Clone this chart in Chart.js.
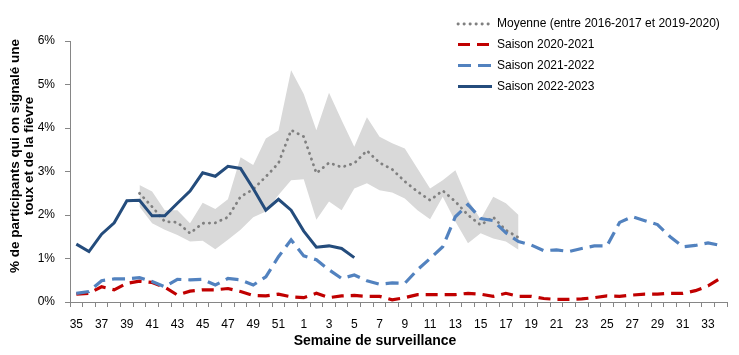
<!DOCTYPE html>
<html>
<head>
<meta charset="utf-8">
<script src="https://cdn.jsdelivr.net/npm/chart.js@4/dist/chart.umd.min.js"></script>
<style>
  html, body { margin: 0; padding: 0; background: #fff; }
  #wrap { width: 739px; height: 355px; }
</style>
</head>
<body>
<div id="wrap"><canvas id="c" width="739" height="355"></canvas></div>
<script>
// Weeks of surveillance (35..52 then 1..34)
const weeks = [35,36,37,38,39,40,41,42,43,44,45,46,47,48,49,50,51,52,
  1,2,3,4,5,6,7,8,9,10,11,12,13,14,15,16,17,18,19,20,21,22,23,24,25,26,27,28,29,30,31,32,33,34];

// Average 2016-2017 to 2019-2020 (weeks 40..18)
const moyenne = [null,null,null,null,null,
  2.50,2.19,1.85,1.83,1.58,1.81,1.82,1.95,2.42,2.59,2.88,3.19,3.95,
  3.80,2.96,3.20,3.10,3.19,3.48,3.20,3.05,2.77,2.54,2.34,2.56,2.31,2.00,1.77,1.95,1.65,1.48,
  null,null,null,null,null,null,null,null,null,null,null,null,null,null,null,null];

// Range (max / min) of previous seasons
const plageMax = [null,null,null,null,null,
  2.69,2.54,2.11,2.11,1.81,2.28,2.14,2.36,3.33,3.15,3.76,3.94,5.33,
  4.78,3.95,4.81,4.18,3.57,4.25,3.80,3.65,3.53,3.07,2.61,2.80,3.03,2.35,1.90,2.42,2.27,2.00,
  null,null,null,null,null,null,null,null,null,null,null,null,null,null,null,null];
const plageMin = [null,null,null,null,null,
  2.19,1.81,1.66,1.54,1.39,1.41,1.21,1.43,1.66,1.95,2.08,2.46,2.80,
  2.82,1.89,2.31,2.11,2.61,2.73,2.57,2.52,2.38,2.11,1.90,2.42,1.85,1.35,1.58,1.46,1.39,1.20,
  null,null,null,null,null,null,null,null,null,null,null,null,null,null,null,null];

const saison2020 = [0.18,0.20,0.35,0.28,0.43,0.48,0.45,0.34,0.16,0.25,0.28,0.28,0.31,0.24,0.15,0.14,0.18,0.12,
  0.10,0.20,0.10,0.14,0.15,0.13,0.13,0.05,0.10,0.17,0.17,0.17,0.17,0.20,0.18,0.13,0.20,0.13,0.13,0.08,
  0.06,0.06,0.07,0.10,0.14,0.13,0.16,0.18,0.18,0.20,0.20,0.26,0.37,0.55];

const saison2021 = [0.20,0.24,0.49,0.53,0.53,0.56,0.47,0.35,0.52,0.51,0.52,0.39,0.54,0.51,0.39,0.58,1.04,1.43,
  1.06,0.97,0.74,0.54,0.62,0.49,0.41,0.44,0.43,0.74,1.00,1.27,1.96,2.24,1.92,1.87,1.59,1.39,1.31,1.18,
  1.20,1.16,1.23,1.29,1.29,1.83,1.96,1.87,1.78,1.50,1.27,1.30,1.36,1.30];

const saison2022 = [1.33,1.16,1.56,1.82,2.33,2.34,1.98,1.98,2.27,2.55,2.97,2.89,3.12,3.07,2.61,2.11,2.36,2.11,
  1.63,1.26,1.29,1.23,1.02];

const yTicks = [0,1,2,3,4,5,6];

const FONT = '"Liberation Sans", Arial, sans-serif';

const legendItems = ['Moyenne (entre 2016-2017 et 2019-2020)','Saison 2020-2021','Saison 2021-2022','Saison 2022-2023'];

const datasets = [
  { label: 'max', data: plageMax, borderWidth: 0, pointRadius: 0, fill: '+1',
    backgroundColor: '#D9D9D9', borderColor: 'rgba(0,0,0,0)', order: 10 },
  { label: 'min', data: plageMin, borderWidth: 0, pointRadius: 0, fill: false,
    borderColor: 'rgba(0,0,0,0)', order: 11 },
  { label: legendItems[0], data: moyenne, borderColor: '#808080', borderWidth: 2.8,
    borderDash: [0.3, 5.7], borderCapStyle: 'round', pointRadius: 0, fill: false, order: 4, inLegend: true },
  { label: legendItems[1], data: saison2020, borderColor: '#C00000', borderWidth: 3.2,
    borderDash: [12, 7], pointRadius: 0, fill: false, order: 3, inLegend: true },
  { label: legendItems[2], data: saison2021, borderColor: '#5282BF', borderWidth: 3.2,
    borderDash: [13, 7], pointRadius: 0, fill: false, order: 2, inLegend: true },
  { label: legendItems[3], data: saison2022, borderColor: '#244C7C', borderWidth: 3,
    pointRadius: 0, fill: false, order: 1, inLegend: true }
];

const customDraw = {
  id: 'customDraw',
  afterDraw(chart) {
    const ctx = chart.ctx;
    ctx.save();
    // legend
    const ys = [24, 44.5, 65.5, 86.5];
    let k = 0;
    chart.data.datasets.forEach(ds => {
      if (!ds.inLegend) return;
      const y = ys[k++];
      ctx.save();
      ctx.strokeStyle = ds.borderColor;
      ctx.lineWidth = ds.borderWidth;
      ctx.lineCap = ds.borderCapStyle || 'butt';
      ctx.setLineDash(ds.borderDash || []);
      ctx.beginPath();
      ctx.moveTo(458, y);
      ctx.lineTo(492, y);
      ctx.stroke();
      ctx.restore();
      ctx.fillStyle = '#000';
      ctx.font = '12px ' + FONT;
      ctx.textBaseline = 'middle';
      ctx.textAlign = 'left';
      ctx.fillText(ds.label, 497, y);
    });
    // axis titles
    ctx.fillStyle = '#000';
    ctx.font = 'bold 14px ' + FONT;
    ctx.textAlign = 'center';
    ctx.textBaseline = 'middle';
    ctx.fillText('Semaine de surveillance', 375, 341);
    ctx.font = 'bold 13.5px ' + FONT;
    ctx.save();
    ctx.translate(15, 156);
    ctx.rotate(-Math.PI / 2);
    ctx.fillText('% de participants qui on signalé une', 0, 0);
    ctx.restore();
    ctx.save();
    ctx.translate(29, 156);
    ctx.rotate(-Math.PI / 2);
    ctx.fillText('toux et de la fièvre', 0, 0);
    ctx.restore();
    ctx.restore();
  }
};

new Chart(document.getElementById('c'), {
  type: 'line',
  data: { labels: weeks.map(String), datasets },
  plugins: [customDraw],
  options: {
    responsive: false,
    animation: false,
    spanGaps: false,
    elements: { line: { tension: 0 } },
    layout: { padding: { top: 41, right: 12, left: 0, bottom: 0 } },
    plugins: {
      legend: { display: false },
      tooltip: { enabled: false },
      filler: { propagate: false }
    },
    scales: {
      x: {
        offset: true,
        grid: { offset: true, drawOnChartArea: false, tickLength: 5, color: '#868686', lineWidth: 1 },
        border: { color: '#868686', width: 1 },
        ticks: {
          autoSkip: false, maxRotation: 0, minRotation: 0, padding: 10,
          color: '#000', font: { family: FONT, size: 12 },
          callback: (v, i) => (i % 2 === 0 ? String(weeks[i]) : '')
        },
        afterFit: s => { s.height = 53; }
      },
      y: {
        min: 0, max: 6,
        afterBuildTicks: s => { s.ticks = yTicks.map(v => ({ value: v })); },
        grid: { drawOnChartArea: false, tickLength: 5, color: '#868686' },
        border: { color: '#868686', width: 1 },
        ticks: {
          padding: 10, color: '#000', font: { family: FONT, size: 12 },
          callback: v => v + '%'
        },
        afterFit: s => { s.width = 70; }
      }
    }
  }
});
</script>
</body>
</html>
